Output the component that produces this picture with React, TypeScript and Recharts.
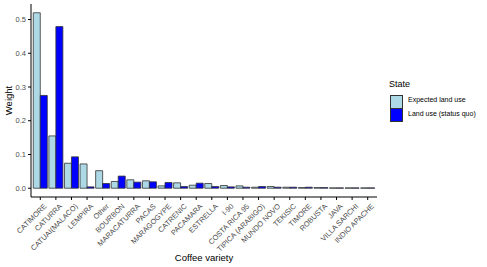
import React from 'react';
import { BarChart, Bar, XAxis, YAxis } from 'recharts';

const categories = [
  'CATIMORE', 'CATURRA', 'CATUAI(MALACO)', 'LEMPIRA', 'Other', 'BOURBON', 'MARACATURRA', 'PACAS',
  'MARAGOGYPE', 'CATRENIC', 'PACAMARA', 'ESTRELLA', 'I-90', 'COSTA RICA 95', 'TIPICA (ARABIGO)',
  'MUNDO NOVO', 'TEKISIC', 'TIMORE', 'ROBUSTA', 'JAVA', 'VILLA SARCHI', 'INDIO APACHE',
];
const expectedLandUse = [
  0.52, 0.155, 0.074, 0.072, 0.052, 0.02, 0.025, 0.022, 0.007, 0.016, 0.009,
  0.014, 0.008, 0.007, 0.003, 0.005, 0.003, 0.002, 0.002, 0.001, 0.001, 0.001,
];
const statusQuo = [
  0.275, 0.479, 0.093, 0.004, 0.014, 0.036, 0.018, 0.019, 0.017, 0.005, 0.015,
  0.005, 0.004, 0.003, 0.005, 0.003, 0.003, 0.003, 0.002, 0.001, 0.001, 0.001,
];
const yTicks = [0, 0.1, 0.2, 0.3, 0.4, 0.5];

const data = categories.map((name, i) => ({
  name,
  expected: expectedLandUse[i],
  statusQuo: statusQuo[i],
}));

const FONT = '"Liberation Sans", Arial, Helvetica, sans-serif';
const TICK_GREY = '#4d4d4d';

const RotTick = (props: any) => {
  const { x, y, payload } = props;
  return (
    <g transform={`translate(${x + 3},${y + 1})`}>
      <text
        transform="rotate(-45)"
        textAnchor="end"
        dy="0.71em"
        fontSize={7.4}
        fill={TICK_GREY}
        fontFamily={FONT}
      >
        {payload.value}
      </text>
    </g>
  );
};

const XLabel = (props: any) => {
  const { viewBox } = props;
  const cx = viewBox.x + viewBox.width / 2;
  return (
    <text x={cx} y={261} textAnchor="middle" fontSize={9.5} fill="#000" fontFamily={FONT}>
      Coffee variety
    </text>
  );
};

const YLabel = (props: any) => {
  const { viewBox } = props;
  const cy = viewBox.y + viewBox.height / 2;
  return (
    <text
      x={0}
      y={0}
      transform={`translate(12,${cy}) rotate(-90)`}
      textAnchor="middle"
      fontSize={9.5}
      fill="#000"
      fontFamily={FONT}
    >
      Weight
    </text>
  );
};

export default function App() {
  return (
    <div
      style={{
        position: 'absolute',
        left: 0,
        top: 0,
        width: 487,
        height: 267,
        background: '#fff',
        fontFamily: FONT,
      }}
    >
      <BarChart
        width={487}
        height={267}
        data={data}
        margin={{ top: 4, right: 110, left: 0, bottom: 0 }}
        barCategoryGap="5%"
        barGap={0}
      >
        <XAxis
          dataKey="name"
          interval={0}
          height={70}
          padding={{ left: 1.5, right: 1.5 }}
          tick={<RotTick />}
          tickSize={3}
          tickLine={{ stroke: '#000' }}
          axisLine={{ stroke: '#000' }}
          label={<XLabel />}
        />
        <YAxis
          width={31}
          domain={[-0.026, 0.546]}
          ticks={yTicks}
          allowDataOverflow
          tickFormatter={(v: number) => v.toFixed(1)}
          tick={{ fontSize: 7.5, fill: TICK_GREY, fontFamily: FONT }}
          tickSize={3}
          tickMargin={2}
          tickLine={{ stroke: '#000' }}
          axisLine={{ stroke: '#000' }}
          label={<YLabel />}
        />
        <Bar dataKey="expected" fill="#ADD8E6" stroke="#333" strokeWidth={0.8} isAnimationActive={false} />
        <Bar dataKey="statusQuo" fill="#0000FF" stroke="#333" strokeWidth={0.8} isAnimationActive={false} />
      </BarChart>
      <div style={{ position: 'absolute', left: 389, top: 79, fontSize: 9, color: '#000' }}>State</div>
      <div
        style={{
          position: 'absolute',
          left: 390,
          top: 95,
          width: 11,
          height: 12,
          background: '#ADD8E6',
          border: '0.8px solid #333',
        }}
      />
      <div
        style={{
          position: 'absolute',
          left: 390,
          top: 108,
          width: 11,
          height: 12,
          background: '#0000FF',
          border: '0.8px solid #333',
        }}
      />
      <div style={{ position: 'absolute', left: 408, top: 96, fontSize: 7, color: '#000', whiteSpace: 'nowrap' }}>
        Expected land use
      </div>
      <div style={{ position: 'absolute', left: 408, top: 109.5, fontSize: 7, color: '#000', whiteSpace: 'nowrap' }}>
        Land use (status quo)
      </div>
    </div>
  );
}
